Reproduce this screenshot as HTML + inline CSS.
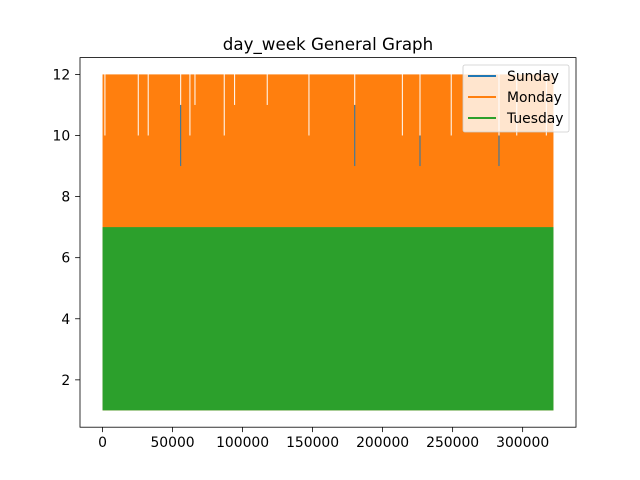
<!DOCTYPE html>
<html><head><meta charset="utf-8"><style>
body{margin:0;background:#fff}
svg{display:block;font-family:"DejaVu Sans","Liberation Sans",sans-serif}
</style></head><body>
<svg id="chart" width="640" height="480" viewBox="0 0 640 480">
<rect width="640" height="480" fill="#fff"/>
<text x="328" y="50" text-anchor="middle" font-size="16.7">day_week General Graph</text>
<g id="plot"></g>
<g id="axes"></g>
</svg>
<script>
const nPoints = 322000;
const seriesNames = ["Sunday","Monday","Tuesday"];
const seriesColors = ["#1f77b4","#ff7f0e","#2ca02c"];
const mondayRange = [1, 12];
const tuesdayRange = [1, 7];
const gapX = [1700,25500,32600,55800,62400,66000,86900,94300,117600,147400,180100,214100,226700,249000,283100,295800,316900];
const gapTop = [10,10,10,11,10,11,10,11,11,10,11,10,10,10,10,10,10];
const sundayX = [55800,180100,226700,283100];
const sundayTop = [9,9,9,9];
const xTicks = [0,50000,100000,150000,200000,250000,300000];
const yTicks = [2,4,6,8,10,12];

const L=80,R=576,T=57.6,B=427.2;
const xmin=-0.05*nPoints,xmax=1.05*nPoints,ymin=0.45,ymax=12.55;
const sx=v=>L+(v-xmin)/(xmax-xmin)*(R-L);
const sy=v=>B-(v-ymin)/(ymax-ymin)*(B-T);
const NS="http://www.w3.org/2000/svg";
function mk(tag,attrs,parent){const e=document.createElementNS(NS,tag);for(const k in attrs)e.setAttribute(k,attrs[k]);parent.appendChild(e);return e;}
const plot=document.getElementById('plot'),axes=document.getElementById('axes');

let m=mk('rect',{x:sx(0),y:sy(mondayRange[1]),width:sx(nPoints)-sx(0),height:sy(mondayRange[0])-sy(mondayRange[1]),fill:seriesColors[1]},plot);


gapX.forEach((g,i)=>{
 const r=mk('rect',{x:sx(g)-0.5,y:sy(12)-0.5,width:1,height:sy(gapTop[i])-sy(12)+0.5,fill:'#fff'},plot);
 
 
});
sundayX.forEach((g,i)=>{
 const r=mk('line',{x1:sx(g),x2:sx(g),y1:sy(gapTop[gapX.indexOf(g)]||10),y2:sy(sundayTop[i]),stroke:seriesColors[0],'stroke-width':1},plot);
 
 
});
let t=mk('rect',{x:sx(0),y:sy(tuesdayRange[1]),width:sx(nPoints)-sx(0),height:sy(tuesdayRange[0])-sy(tuesdayRange[1]),fill:seriesColors[2]},plot);



let f=mk('rect',{x:L,y:T,width:R-L,height:B-T,fill:'none',stroke:'#000','stroke-width':0.8},axes);


xTicks.forEach(v=>{
 const x=sx(v);
 const l=mk('line',{x1:x,x2:x,y1:B,y2:B+4.9,stroke:'#000','stroke-width':0.8},axes);
 
 
 const tx=mk('text',{x:x,y:B+20,'text-anchor':'middle','font-size':13.9},axes);
 tx.textContent=v;
 
 
});
yTicks.forEach(v=>{
 const y=sy(v);
 const l=mk('line',{x1:L-4.9,x2:L,y1:y,y2:y,stroke:'#000','stroke-width':0.8},axes);
 
 
 const tx=mk('text',{x:L-9.8,y:y+5,'text-anchor':'end','font-size':13.9},axes);
 tx.textContent=v;
 
 
});
const lg=mk('g',{},axes);


mk('rect',{x:463,y:65,width:106,height:67,rx:2,fill:'#fff','fill-opacity':0.8,stroke:'#ccc','stroke-width':0.8},lg);
seriesNames.forEach((n,i)=>{
 const y=76+i*21;
 const l=mk('line',{x1:468,x2:496,y1:y,y2:y,stroke:seriesColors[i],'stroke-width':2},lg);
 
 
 const tx=mk('text',{x:507,y:y+5,'font-size':13.9},lg);
 tx.textContent=n;
 
 
});
</script>
</body></html>
